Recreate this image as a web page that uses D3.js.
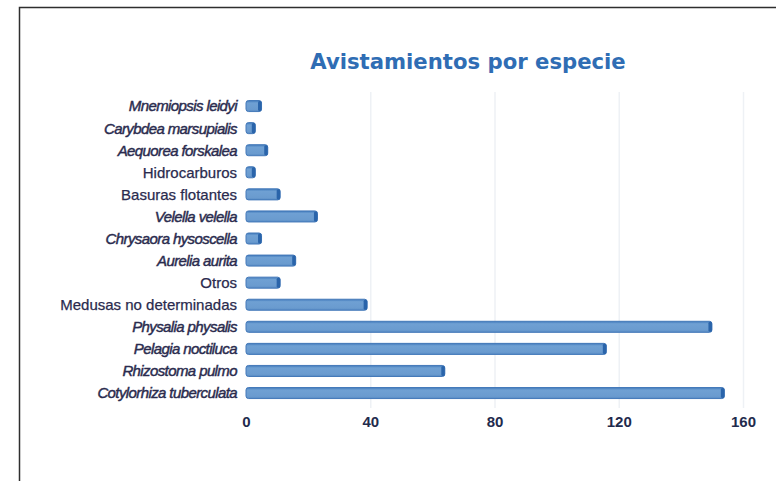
<!DOCTYPE html>
<html>
<head>
<meta charset="utf-8">
<script src="https://cdn.jsdelivr.net/npm/d3@7"></script>
<style>
  html, body { margin: 0; padding: 0; background: #ffffff; }
  svg { display: block; }
</style>
</head>
<body>
<svg id="chart" width="776" height="481"></svg>
<script>
const title = "Avistamientos por especie";
const categories = [
  "Mnemiopsis leidyi",
  "Carybdea marsupialis",
  "Aequorea forskalea",
  "Hidrocarburos",
  "Basuras flotantes",
  "Velella velella",
  "Chrysaora hysoscella",
  "Aurelia aurita",
  "Otros",
  "Medusas no determinadas",
  "Physalia physalis",
  "Pelagia noctiluca",
  "Rhizostoma pulmo",
  "Cotylorhiza tuberculata"
];
const values = [5, 3, 7, 3, 11, 23, 5, 16, 11, 39, 150, 116, 64, 154];
const nonSpecies = ["Hidrocarburos", "Basuras flotantes", "Otros", "Medusas no determinadas"];
const tickValues = [0, 40, 80, 120, 160];

const svg = d3.select("#chart");

// frame
svg.append("rect")
  .attr("x", 19.5).attr("y", 7.5)
  .attr("width", 800).attr("height", 500)
  .attr("fill", "#ffffff")
  .attr("stroke", "#2e2e2e")
  .attr("stroke-width", 1.5);

// title
svg.append("text")
  .attr("x", 468).attr("y", 69)
  .attr("text-anchor", "middle")
  .attr("font-family", "DejaVu Sans")
  .attr("font-weight", "bold")
  .attr("font-size", 21.2)
  .attr("fill", "#2f6db4")
  .text(title);

const x = d3.scaleLinear().domain([0, 160]).range([246, 743]);
const y = d3.scaleBand().domain(categories).range([89.5, 409.6]).paddingInner(0.5).paddingOuter(0.5);

// gridlines
svg.append("g").selectAll("line")
  .data(tickValues.filter(d => d > 0))
  .join("line")
  .attr("x1", d => x(d) + 0.5).attr("x2", d => x(d) + 0.5)
  .attr("y1", 92).attr("y2", 408)
  .attr("stroke", "#eef1f5")
  .attr("stroke-width", 1.5);

// gradient for bars
const defs = svg.append("defs");
const grad = defs.append("linearGradient").attr("id", "barGrad")
  .attr("x1", 0).attr("y1", 0).attr("x2", 0).attr("y2", 1);
grad.append("stop").attr("offset", "0%").attr("stop-color", "#3f78ba");
grad.append("stop").attr("offset", "22%").attr("stop-color", "#6fa0d3");
grad.append("stop").attr("offset", "80%").attr("stop-color", "#6a9bcf");
grad.append("stop").attr("offset", "100%").attr("stop-color", "#5589c3");

const data = categories.map((c, i) => ({ c, v: values[i] }));

const bars = svg.append("g");
bars.selectAll("rect.bar")
  .data(data)
  .join("rect")
  .attr("class", "bar")
  .attr("x", x(0))
  .attr("y", d => y(d.c))
  .attr("width", d => x(d.v) - x(0))
  .attr("height", y.bandwidth())
  .attr("rx", 2.5)
  .attr("fill", "url(#barGrad)")
  .attr("stroke", "#4479b9")
  .attr("stroke-width", 1);

// darker rounded right cap
bars.selectAll("rect.cap")
  .data(data)
  .join("rect")
  .attr("class", "cap")
  .attr("x", d => x(d.v) - 3.5)
  .attr("y", d => y(d.c) + 0.5)
  .attr("width", 3.5)
  .attr("height", y.bandwidth() - 1)
  .attr("rx", 1.5)
  .attr("fill", "#2a64aa");

// category labels
svg.append("g").selectAll("text")
  .data(categories)
  .join("text")
  .attr("x", 237)
  .attr("y", d => y(d) + y.bandwidth() / 2)
  .attr("dy", "0.36em")
  .attr("text-anchor", "end")
  .attr("font-family", "Liberation Sans")
  .attr("font-size", 15)
  .attr("font-style", d => nonSpecies.includes(d) ? "normal" : "italic")
  .attr("letter-spacing", d => nonSpecies.includes(d) ? 0 : -0.6)
  .attr("fill", "#2a2b4e")
  .attr("stroke", "#2a2b4e")
  .attr("stroke-width", d => nonSpecies.includes(d) ? 0.25 : 0.45)
  .text(d => d);

// x axis labels
const axis = d3.axisBottom(x).tickValues(tickValues).tickSize(0).tickPadding(0);
const gx = svg.append("g").attr("transform", "translate(0,416)").call(axis);
gx.select(".domain").remove();
gx.selectAll("text")
  .attr("font-family", "Liberation Sans")
  .attr("font-weight", "bold")
  .attr("font-size", 15)
  .attr("fill", "#1f2b4d");
</script>
</body>
</html>
